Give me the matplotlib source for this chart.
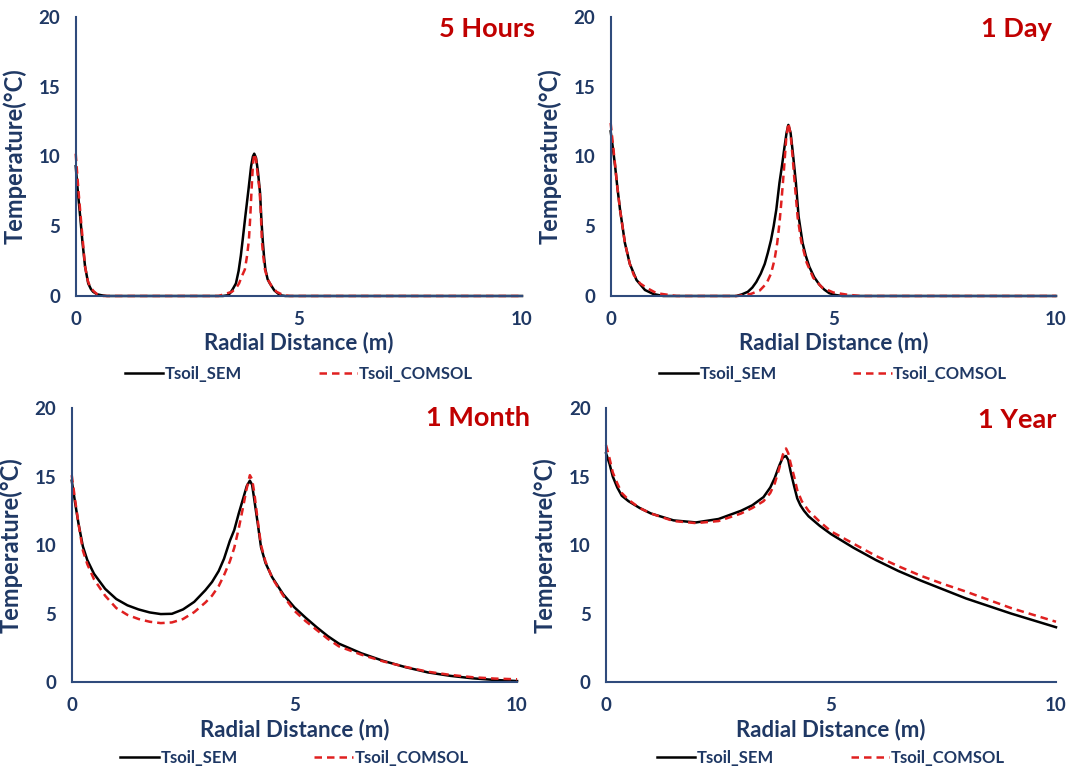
import matplotlib.pyplot as plt

plt.rcParams['font.family'] = ['Lato', 'DejaVu Sans']
plt.rcParams['font.weight'] = 'bold'

NAVY = '#1f3864'
SPINE = '#2f4b7c'
TITLE_RED = '#c00000'
DASH_RED = '#e02020'

# ---- 5 Hours ----
x_5h_sem = [0.00, 0.05, 0.10, 0.15, 0.21, 0.28, 0.34, 0.39, 0.48, 0.58, 0.70,
            3.30, 3.40, 3.46, 3.52, 3.59, 3.65, 3.70, 3.74, 3.80, 3.87, 3.93, 3.97, 4.00,
            4.04, 4.08, 4.13, 4.16, 4.19, 4.22, 4.25, 4.30, 4.35, 4.45, 4.58, 4.70, 10.0]
T_5h_sem = [9.3, 7.4, 5.7, 3.9, 2.1, 0.9, 0.5, 0.3, 0.12, 0.05, 0.0,
            0.0, 0.05, 0.2, 0.5, 0.9, 1.8, 2.9, 4.0, 5.7, 7.6, 9.3, 10.0, 10.2,
            9.9, 9.0, 7.4, 5.5, 4.0, 2.8, 1.9, 1.2, 0.9, 0.4, 0.05, 0.0, 0.0]
x_5h_com = [0.00, 0.06, 0.13, 0.21, 0.27, 0.32, 0.40, 0.47, 0.62,
            3.20, 3.30, 3.50, 3.60, 3.66, 3.72, 3.79, 3.84, 3.88, 3.91, 3.94, 3.97, 4.00,
            4.04, 4.08, 4.12, 4.15, 4.17, 4.20, 4.24, 4.30, 4.39, 4.50, 4.66, 4.80, 10.0]
T_5h_com = [10.2, 7.6, 5.0, 2.1, 1.1, 0.67, 0.35, 0.15, 0.0,
            0.0, 0.1, 0.3, 0.6, 0.9, 1.4, 1.9, 2.9, 4.0, 5.6, 7.6, 9.4, 10.2,
            9.8, 8.6, 7.6, 5.8, 4.0, 2.9, 1.9, 1.2, 0.7, 0.3, 0.05, 0.0, 0.0]

# ---- 1 Day ----
x_1d_sem = [0.00, 0.05, 0.10, 0.15, 0.21, 0.27, 0.32, 0.43, 0.58, 0.77, 0.96, 1.18,
            2.82, 2.95, 3.08, 3.18, 3.27, 3.37, 3.46, 3.53, 3.60, 3.66, 3.72, 3.79, 3.85,
            3.90, 3.95, 3.99, 4.04, 4.09, 4.16, 4.22, 4.31, 4.38, 4.46, 4.57, 4.69,
            4.80, 4.91, 5.05, 5.20, 10.0]
T_1d_sem = [11.8, 10.6, 9.3, 7.8, 6.2, 4.9, 3.8, 2.3, 1.15, 0.43, 0.14, 0.0,
            0.0, 0.12, 0.3, 0.6, 1.0, 1.6, 2.3, 3.1, 4.0, 5.0, 6.2, 8.1, 9.4,
            10.6, 11.7, 12.26, 11.7, 10.3, 8.1, 5.7, 3.8, 2.9, 2.1, 1.35, 0.8,
            0.45, 0.2, 0.07, 0.0, 0.0]
x_1d_com = [0.00, 0.05, 0.10, 0.15, 0.21, 0.27, 0.32, 0.43, 0.52, 0.66, 0.80, 1.03, 1.48,
            2.85, 3.15, 3.35, 3.50, 3.60, 3.68, 3.74, 3.79, 3.84, 3.89, 3.94, 3.99,
            4.04, 4.09, 4.14, 4.20, 4.28, 4.40, 4.55, 4.75, 5.00, 5.30, 5.60, 10.0]
T_1d_com = [12.4, 10.9, 9.4, 7.8, 6.2, 4.9, 3.8, 2.3, 1.5, 0.9, 0.6, 0.2, 0.0,
            0.0, 0.15, 0.4, 0.9, 1.6, 2.6, 3.8, 5.2, 7.0, 9.0, 11.2, 12.4,
            11.6, 9.8, 7.8, 5.6, 3.9, 2.4, 1.3, 0.6, 0.25, 0.1, 0.0, 0.0]

# ---- 1 Month ----
x_1m_sem = [0.00, 0.08, 0.15, 0.25, 0.35, 0.50, 0.75, 1.00, 1.25, 1.50, 1.75, 2.00,
            2.25, 2.50, 2.75, 3.00, 3.15, 3.30, 3.42, 3.55, 3.65, 3.75, 3.85, 3.93, 4.00,
            4.05, 4.10, 4.18, 4.25, 4.35, 4.50, 4.75, 5.00, 5.25, 5.50, 5.75, 6.00, 6.50,
            7.00, 7.50, 8.00, 8.50, 9.00, 9.50, 10.0]
T_1m_sem = [14.7, 13.0, 11.6, 9.9, 8.9, 7.9, 6.8, 6.06, 5.6, 5.3, 5.08, 4.96,
            4.98, 5.3, 5.85, 6.7, 7.3, 8.1, 9.0, 10.3, 11.1, 12.3, 13.4, 14.3, 14.7,
            14.4, 13.3, 11.5, 9.85, 8.7, 7.65, 6.4, 5.45, 4.7, 4.0, 3.35, 2.8, 2.1,
            1.54, 1.08, 0.7, 0.45, 0.27, 0.15, 0.07]
x_1m_com = [0.00, 0.08, 0.15, 0.25, 0.35, 0.50, 0.75, 1.00, 1.25, 1.50, 1.75, 2.00,
            2.25, 2.50, 2.75, 3.00, 3.15, 3.30, 3.42, 3.55, 3.65, 3.75, 3.85, 3.92, 4.00,
            4.05, 4.10, 4.18, 4.25, 4.35, 4.50, 4.75, 5.00, 5.25, 5.50, 5.75, 6.00, 6.50,
            7.00, 7.50, 8.00, 8.50, 9.00, 9.50, 10.0]
T_1m_com = [15.1, 13.2, 11.6, 9.6, 8.6, 7.5, 6.3, 5.4, 4.9, 4.6, 4.4, 4.3,
            4.35, 4.6, 5.1, 5.8, 6.3, 7.0, 7.8, 8.8, 9.8, 11.2, 12.8, 14.0, 15.1,
            14.8, 13.8, 11.7, 10.0, 8.8, 7.6, 6.3, 5.2, 4.45, 3.8, 3.15, 2.6, 2.0,
            1.5, 1.1, 0.75, 0.52, 0.35, 0.25, 0.2]

# ---- 1 Year ----
x_1y_sem = [0.00, 0.08, 0.15, 0.25, 0.35, 0.50, 0.75, 1.00, 1.50, 2.00, 2.50,
            3.00, 3.25, 3.50, 3.65, 3.75, 3.85, 3.93, 4.00, 4.05, 4.10, 4.18,
            4.25, 4.32, 4.40, 4.50, 4.75, 5.00, 5.50, 6.00, 6.50, 7.00, 7.50,
            8.00, 8.50, 9.00, 9.50, 10.0]
T_1y_sem = [16.7, 15.9, 15.0, 14.2, 13.6, 13.2, 12.7, 12.3, 11.8, 11.65, 11.9,
            12.5, 12.9, 13.5, 14.2, 14.9, 15.8, 16.4, 16.5, 16.2, 15.4, 14.3,
            13.4, 12.9, 12.5, 12.1, 11.4, 10.8, 9.8, 8.9, 8.1, 7.4, 6.75,
            6.1, 5.55, 5.0, 4.5, 4.0]
x_1y_com = [0.00, 0.08, 0.15, 0.25, 0.35, 0.50, 0.75, 1.00, 1.50, 2.00, 2.50,
            3.00, 3.25, 3.50, 3.65, 3.75, 3.85, 3.93, 4.00, 4.05, 4.10, 4.18,
            4.25, 4.35, 4.50, 4.75, 5.00, 5.50, 6.00, 6.50, 7.00, 7.50,
            8.00, 8.50, 9.00, 9.50, 10.0]
T_1y_com = [17.3, 16.3, 15.3, 14.5, 13.8, 13.3, 12.7, 12.3, 11.75, 11.6, 11.75,
            12.3, 12.7, 13.2, 13.8, 14.5, 15.6, 16.6, 17.05, 16.7, 16.0, 15.0,
            14.0, 13.2, 12.5, 11.7, 11.0, 10.1, 9.2, 8.45, 7.75, 7.15,
            6.6, 6.0, 5.4, 4.9, 4.4]

titles = ['5 Hours', '1 Day', '1 Month', '1 Year']
sem_x = [x_5h_sem, x_1d_sem, x_1m_sem, x_1y_sem]
sem_T = [T_5h_sem, T_1d_sem, T_1m_sem, T_1y_sem]
com_x = [x_5h_com, x_1d_com, x_1m_com, x_1y_com]
com_T = [T_5h_com, T_1d_com, T_1m_com, T_1y_com]

# axes boxes in figure fraction
rects = [[0.0703, 0.6141, 0.4144, 0.3638],
         [0.5670, 0.6141, 0.4135, 0.3638],
         [0.0666, 0.1108, 0.4135, 0.3572],
         [0.5627, 0.1108, 0.4178, 0.3572]]
title_pos = [(1.03, 0.958), (0.99, 0.958), (1.03, 0.963), (1.0, 0.958)]
xlabel_y = [-0.128, -0.128, -0.134, -0.134]

fig = plt.figure(figsize=(10.77, 7.67), dpi=100)

for i in range(4):
    ax = fig.add_axes(rects[i])
    ax.plot(sem_x[i], sem_T[i], color='black', lw=1.8, label='Tsoil_SEM')
    ax.plot(com_x[i], com_T[i], color=DASH_RED, lw=1.8, ls=(0, (3.0, 2.0)),
            label='Tsoil_COMSOL')

    ax.set_xlim(0, 10)
    ax.set_ylim(0, 20)
    ax.set_xticks([0, 5, 10])
    ax.set_yticks([0, 5, 10, 15, 20])
    ax.tick_params(length=0, labelsize=13.5, labelcolor=NAVY)
    ax.tick_params(axis='x', pad=11)
    ax.tick_params(axis='y', pad=11)
    for lbl in ax.get_xticklabels() + ax.get_yticklabels():
        lbl.set_fontweight('bold')

    for side in ['top', 'right']:
        ax.spines[side].set_visible(False)
    for side in ['left', 'bottom']:
        ax.spines[side].set_color(SPINE)
        ax.spines[side].set_linewidth(1.5)
    for ln in ax.lines:
        ln.set_clip_on(False)

    ax.set_xlabel('Radial Distance (m)', fontsize=16, fontweight='bold', color=NAVY)
    ax.xaxis.set_label_coords(0.5, xlabel_y[i])
    ax.set_ylabel('Temperature(°C)', fontsize=17, fontweight='bold', color=NAVY)
    ax.yaxis.set_label_coords(-0.11, 0.5)

    tx, ty = title_pos[i]
    ax.text(tx, ty, titles[i], transform=ax.transAxes, ha='right', va='center',
            fontsize=19.5, fontweight='bold', color=TITLE_RED)

    leg = ax.legend(loc='center', bbox_to_anchor=(0.5, -0.278), ncol=2, frameon=False,
                    fontsize=12, handlelength=2.3, handletextpad=0.1,
                    columnspacing=4.6)
    for t in leg.get_texts():
        t.set_color(NAVY)
        t.set_fontweight('bold')

fig.savefig('out.png', dpi=100)
